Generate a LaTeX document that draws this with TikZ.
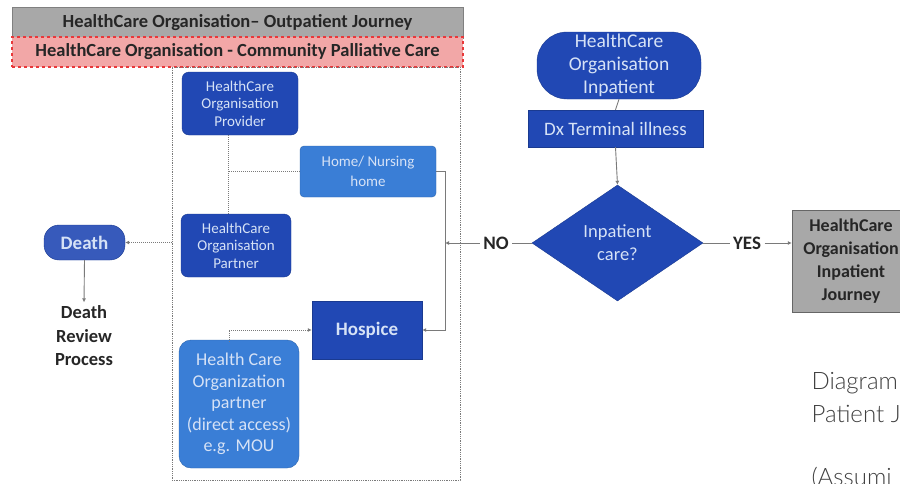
\documentclass[tikz,border=0pt]{standalone}
\usepackage{fontspec}
\setmainfont{Carlito}
\newfontfamily\latofont{Lato Light}
\usetikzlibrary{arrows.meta,shapes.geometric}
\definecolor{dblue}{HTML}{2148B4}
\definecolor{mblue}{HTML}{3A7ED6}
\definecolor{ltxt}{HTML}{D6E2F6}
\definecolor{tgray}{HTML}{A8A8A8}
\definecolor{pinkf}{HTML}{F2A7A7}
\definecolor{redd}{HTML}{E8383A}
\definecolor{lgray}{HTML}{7A7A7A}
\tikzset{
  darkbox/.style={draw=dblue!80!black, fill=dblue, text=ltxt, align=center, inner sep=1pt},
  medbox/.style={draw=mblue!80!black, fill=mblue, text=ltxt, align=center, inner sep=1pt},
  dotl/.style={draw=lgray, densely dotted, line width=1pt},
  conn/.style={draw=lgray, line width=0.9pt},
  tip/.style={-{Latex[length=4pt,width=4pt]}},
  lbl/.style={font=\fontsize{19}{21}\selectfont\bfseries, text=black!85}
}
\begin{document}
\begin{tikzpicture}[x=1pt,y=-1pt]
\useasboundingbox (0,0) rectangle (900,483);
\clip (0,0) rectangle (900,483);
% header boxes
\node[draw=gray, fill=tgray, minimum width=451pt, minimum height=31pt, inner sep=0pt,
  font=\fontsize{18.5}{20}\selectfont\bfseries, text=black!85] (hdr) at (237.5,22.5)
  {HealthCare Organisation-- Outpatient Journey};
\node[draw=redd, dashed, line width=1.2pt, fill=pinkf, minimum width=451pt, minimum height=30pt, inner sep=0pt,
  font=\fontsize{18.5}{20}\selectfont\bfseries, text=black!85] (cpc) at (237.5,52)
  {HealthCare Organisation - Community Palliative Care};
% container
\node[dotl, line width=0.8pt, minimum width=288pt, minimum height=413pt, inner sep=0pt] (cont) at (316,273.5) {};
% boxes
\node[darkbox, rounded corners=7pt, minimum width=116pt, minimum height=63pt,
  font=\fontsize{15}{17.5}\selectfont] (prov) at (240,103.5) {HealthCare\\Organisation\\Provider};
\node[medbox, rounded corners=4pt, minimum width=136pt, minimum height=51pt,
  font=\fontsize{15}{20}\selectfont] (home) at (368,171.5) {Home/ Nursing\\home};
\node[darkbox, rounded corners=7pt, minimum width=110pt, minimum height=63pt,
  font=\fontsize{15}{17.5}\selectfont] (part) at (236,245.5) {HealthCare\\Organisation\\Partner};
\node[darkbox, minimum width=110pt, minimum height=58pt,
  font=\fontsize{19}{21}\selectfont\bfseries] (hosp) at (367,330) {Hospice};
\node[medbox, rounded corners=12pt, minimum width=120pt, minimum height=128pt,
  font=\fontsize{18}{21.5}\selectfont] (mou) at (239,404) {Health Care\\Organization\\partner\\(direct access)\\e.g. MOU};
% death
\node[darkbox, fill=dblue!90!white, rounded corners=15pt, minimum width=81pt, minimum height=35pt,
  font=\fontsize{19}{21}\selectfont\bfseries] (death) at (84.5,242.5) {Death};
\node[align=center, font=\fontsize{18.5}{23.5}\selectfont\bfseries, text=black!85] (drp) at (84,336) {Death\\Review\\Process};
% right side
\node[darkbox, rounded corners=30pt, minimum width=164pt, minimum height=67pt,
  font=\fontsize{19.5}{23}\selectfont] (inp) at (619,65.5) {HealthCare\\Organisation\\Inpatient};
\node[darkbox, minimum width=175pt, minimum height=37pt,
  font=\fontsize{19}{21}\selectfont] (dx) at (615.5,128.5) {Dx Terminal illness};
\node[darkbox, diamond, aspect=1.47, minimum width=171pt, minimum height=116pt, inner sep=0pt,
  font=\fontsize{18.5}{23}\selectfont] (dia) at (617.5,243) {Inpatient\\care?};
\node[lbl] (no) at (496,243) {NO};
\node[lbl] (yes) at (747,243) {YES};
\node[draw=black!60, fill=tgray, minimum width=118pt, minimum height=102pt, align=center,
  font=\fontsize{18}{23}\selectfont\bfseries, text=black!85] (ipj) at (851,261) {HealthCare\\Organisation\\Inpatient\\Journey};
\node[anchor=north west, align=left, text=black!75, font=\latofont\fontsize{24}{33}\selectfont] (cap) at (808,369)
  {Diagram\\Patient J};
\node[anchor=north west, align=left, text=black!75, font=\latofont\fontsize{24}{33}\selectfont] (cap2) at (808,464)
  {(Assumi};
% connectors
\coordinate (dl) at (228,0);
\coordinate (rl) at (445,0);
\coordinate (ml) at (229,0);
\draw[dotl] (prov.south -| dl) -- (part.north -| dl);
\draw[dotl] (home.west) -- (home.west -| dl);
\draw[conn, tip] (home.east) -- (home.east -| rl) -- (hosp.east -| rl) -- (hosp.east);
\draw[dotl, tip] ([yshift=-2pt]mou.north -| ml) |- (hosp.west);
\draw[conn] (dia.west) -- (no.east);
\draw[conn, tip] (no.west) -- (no.west -| rl);
\draw[dotl, tip] (death.east -| cont.west) -- (death.east);
\draw[conn, tip] (death.south) -- (drp.north);
\draw[conn] (inp.south) -- (dx.north);
\draw[conn, tip] (dx.south) -- (dia.north);
\draw[conn] (dia.east) -- (yes.west);
\draw[conn, tip] (yes.east) -- (yes.east -| ipj.west);
\end{tikzpicture}
\end{document}
